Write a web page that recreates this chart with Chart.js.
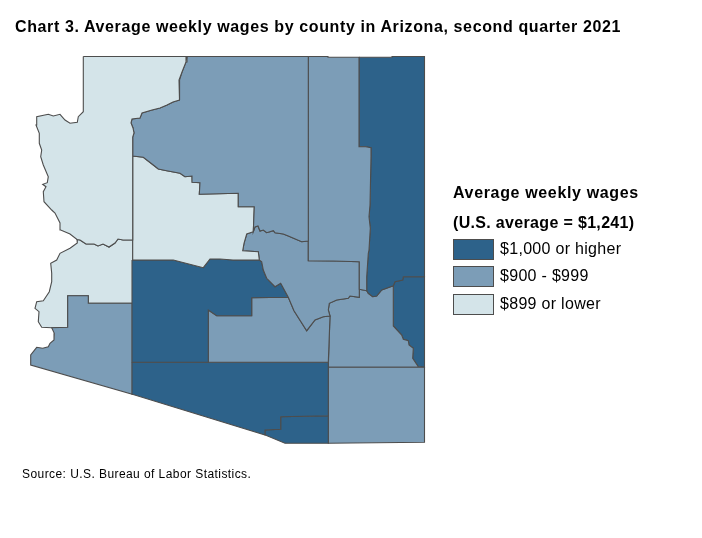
<!DOCTYPE html>
<html>
<head>
<meta charset="utf-8">
<title>Average weekly wages by county in Arizona</title>
<script src="https://cdn.jsdelivr.net/npm/chart.js@4/dist/chart.umd.min.js"></script>
<style>
  body { margin: 0; background: #fff; }
  #wrap { position: relative; width: 702px; height: 538px; overflow: hidden; font-family: "Liberation Sans", Arial, sans-serif; color: #000; }
  #wrap div { position: absolute; white-space: nowrap; }
  #title { left: 15px; top: 17px; font-size: 16px; line-height: 20px; font-weight: bold; letter-spacing: 0.62px; }
  #source { left: 22px; top: 467px; font-size: 12px; line-height: 15px; letter-spacing: 0.43px; }
  #legend { left: 0; top: 0; }
  .legendHead { left: 453px; font-size: 16px; line-height: 20px; font-weight: bold; }
  .legendText { left: 500px; font-size: 16px; line-height: 20px; letter-spacing: 0.3px; }
  .swatch { left: 453px; width: 39px; height: 19px; border: 1px solid #4d4d4d; }
</style>
</head>
<body>
<div id="wrap">
  <canvas id="map" width="702" height="538"></canvas>
  <div id="title">Chart 3. Average weekly wages by county in Arizona, second quarter 2021</div>
  <div class="legendHead" style="top:183px;letter-spacing:0.65px">Average weekly wages</div>
  <div class="legendHead" style="top:213px;letter-spacing:0.33px">(U.S. average = $1,241)</div>
  <div id="legend"></div>
  <div id="source">Source: U.S. Bureau of Labor Statistics.</div>
</div>
<script>
// wage classes
const bandLabels = ["$1,000 or higher", "$900 - $999", "$899 or lower"];
const bandColors = ["#2d628a", "#7c9db7", "#d4e4e9"];

// county outlines, map units (x, y)
const mohave = [[83.3,56.5],[187,56.5],[186,62],[182,72],[179,80],[180,92],[179,100],[173,102],[167,105],[160,108],[152,110],[142,113],[140,118],[132,119],[131,123],[133,128],[134,133],[132.7,137],[132.7,240],[123,240],[118,239],[115,243],[109,247],[103,244],[98,246],[94,244],[86,244],[80,240],[77,239.5],[70,234],[60.7,230],[60,223],[55,213],[51.7,210],[44,201.7],[43.3,191.7],[46,186.7],[42.7,184.3],[47.3,182.7],[48.3,176.7],[43.3,165],[40.7,156.7],[41.7,150],[39.3,143.3],[39.3,133.3],[36,125],[36.7,116.7],[48.3,114.3],[53.3,116],[60,114.3],[65,120],[70,123.3],[77.3,122.3],[78.3,116.7],[83.3,111.7]];
const coconino = [[187,56.5],[308.3,56.5],[308.3,241],[301.7,241.7],[288.3,236],[283.3,234],[275,232.7],[273.3,230.7],[266.7,232.7],[263.3,230],[260,231],[258,226],[255,227],[253.3,231.7],[254.3,206.7],[238.3,206.7],[238.3,193.3],[199.3,194.3],[200,182.7],[192.3,182.3],[192,176],[185,176.7],[180,173.3],[166.7,170.7],[158.3,169],[153.3,165],[143.3,157.3],[132.7,156],[132.7,137],[134,133],[133,128],[131,123],[132,119],[140,118],[142,113],[152,110],[160,108],[167,105],[173,102],[179,100],[180,92],[179,80],[182,72],[186,62]];
const navajo = [[308.3,56.5],[328,56.5],[328,57.3],[359,57.3],[359,146.7],[365.7,146.7],[371,147.7],[371,156.7],[370,205],[369,216.7],[370.3,228.3],[369,250],[368.3,253.3],[366.7,276.7],[366.7,290.7],[359.3,289.3],[359.3,261.7],[333.3,261],[308.3,260.7]];
const apache = [[359,57.3],[392,57.3],[392,56.5],[424.5,56.5],[424.5,276.7],[403.3,276.7],[402.7,280],[395,281.7],[393.3,285.7],[381.7,290],[376.7,296],[372.7,296.7],[368.3,293.3],[366.7,290.7],[366.7,276.7],[368.3,253.3],[369,250],[370.3,228.3],[369,216.7],[370,205],[371,156.7],[371,147.7],[365.7,146.7],[359,146.7]];
const yavapai = [[132.7,156],[143.3,157.3],[153.3,165],[158.3,169],[166.7,170.7],[180,173.3],[185,176.7],[192,176],[192.3,182.3],[200,182.7],[199.3,194.3],[238.3,193.3],[238.3,206.7],[254.3,206.7],[253.3,231.7],[246.7,234],[244,243.3],[242.7,250.7],[258.3,251.7],[259.3,260],[233,260],[220,259],[210,259],[203.3,267.7],[173.3,260],[132.7,260]];
const gila = [[253.3,231.7],[255,227],[258,226],[260,231],[263.3,230],[266.7,232.7],[273.3,230.7],[275,232.7],[283.3,234],[288.3,236],[301.7,241.7],[308.3,241],[308.3,260.7],[333.3,261],[359.3,261.7],[359.3,297.3],[350,296],[348.3,298.3],[336.7,300],[329.3,303.3],[328.3,310],[330,316],[323.3,316.7],[315,320],[306.7,330.7],[294,310.7],[288.3,297.3],[280.7,283.3],[275,286.7],[266.7,278.3],[263.3,270],[261.7,261.7],[259.3,260],[258.3,251.7],[242.7,250.7],[244,243.3],[246.7,234]];
const maricopa = [[132,260],[173.3,260],[203.3,267.7],[210,259],[220,259],[233,260],[259.3,260],[261.7,261.7],[263.3,270],[266.7,278.3],[275,286.7],[280.7,283.3],[288.3,297.3],[251.7,297.7],[251.7,315.7],[216.7,315.7],[208.3,310],[208.3,362.3],[132,362.3]];
const pinal = [[208.3,310],[216.7,315.7],[251.7,315.7],[251.7,297.7],[288.3,297.3],[294,310.7],[306.7,330.7],[315,320],[323.3,316.7],[330,316],[328.3,362.3],[208.3,362.3]];
const pima = [[132,362.3],[328.3,362.3],[328.3,415.7],[280.7,416.7],[280.7,429.3],[265,430],[265,435],[132.3,394.3]];
const santaCruz = [[280.7,416.7],[328.3,415.7],[328.3,443.3],[285,443.3],[265,435],[265,430],[280.7,429.3]];
const cochise = [[328.3,367.3],[424.5,367.3],[424.5,442.3],[328.3,443.3]];
const graham = [[330,316],[328.3,310],[329.3,303.3],[336.7,300],[348.3,298.3],[350,296],[359.3,297.3],[359.3,289.3],[366.7,290.7],[368.3,293.3],[372.7,296.7],[376.7,296],[381.7,290],[393.3,285.7],[393.3,326],[401.7,335],[403.3,339.3],[408.3,340.7],[409,345],[413.3,348.3],[412.7,358.3],[418.3,366.7],[424.5,367.3],[328.3,367.3]];
const greenlee = [[403.3,276.7],[424.5,276.7],[424.5,367.3],[418.3,366.7],[412.7,358.3],[413.3,348.3],[409,345],[408.3,340.7],[403.3,339.3],[401.7,335],[393.3,326],[393.3,285.7],[395,281.7],[402.7,280]];
const yuma = [[132.3,303.3],[88.3,303.3],[88.3,295.7],[67.7,295.7],[67.7,327.3],[51.7,327.7],[54.3,333.3],[54,340],[50,343.3],[48.3,346.7],[42.7,348.3],[36.7,347.3],[30.7,355],[30.7,365],[132.3,394.3]];
const laPaz = [[132.7,240],[123,240],[118,239],[115,243],[109,247],[103,244],[98,246],[94,244],[86,244],[80,240],[77,239.5],[77.3,243],[70,248.3],[60,253.3],[56.7,260],[50.7,263.3],[51.7,273.3],[51.7,281.7],[49.3,291.7],[43.3,300.7],[36.7,301.7],[35,308.3],[39,311.7],[38.3,321.7],[41.7,327.3],[51.7,327.7],[67.7,327.3],[67.7,295.7],[88.3,295.7],[88.3,303.3],[132.3,303.3]];

const counties = [mohave, coconino, navajo, apache, yavapai, gila, maricopa, pinal, pima, santaCruz, cochise, graham, greenlee, yuma, laPaz];
const countyNames = ["Mohave", "Coconino", "Navajo", "Apache", "Yavapai", "Gila", "Maricopa", "Pinal", "Pima", "Santa Cruz", "Cochise", "Graham", "Greenlee", "Yuma", "La Paz"];
const countyBands = [2, 1, 1, 0, 2, 1, 0, 1, 0, 0, 1, 1, 0, 1, 2];

new Chart(document.getElementById("map"), {
    type: "scatter",
    data: {
        datasets: counties.map((shape, i) => ({
            label: countyNames[i],
            // close the ring so the last side gets a border too
            data: shape.concat([shape[0]]).map(p => ({ x: p[0], y: p[1] })),
            showLine: true,
            fill: "shape",
            tension: 0,
            pointRadius: 0,
            borderWidth: 1.1,
            borderColor: "#4d4d4d",
            backgroundColor: bandColors[countyBands[i]]
        }))
    },
    options: {
        responsive: false,
        animation: false,
        layout: { padding: 0 },
        plugins: { legend: { display: false }, title: { display: false }, tooltip: { enabled: false } },
        scales: {
            x: { type: "linear", min: 0, max: 702, display: false },
            y: { type: "linear", min: 0, max: 538, reverse: true, display: false }
        }
    }
});

// legend boxes next to the map
const swatchTops = [239, 266, 294];
const legendBox = document.getElementById("legend");
bandLabels.forEach((label, i) => {
    legendBox.innerHTML += `<div class="swatch" style="top:${swatchTops[i]}px;background:${bandColors[i]}"></div>` +
        `<div class="legendText" style="top:${swatchTops[i]}px">${label}</div>`;
});
</script>
</body>
</html>
